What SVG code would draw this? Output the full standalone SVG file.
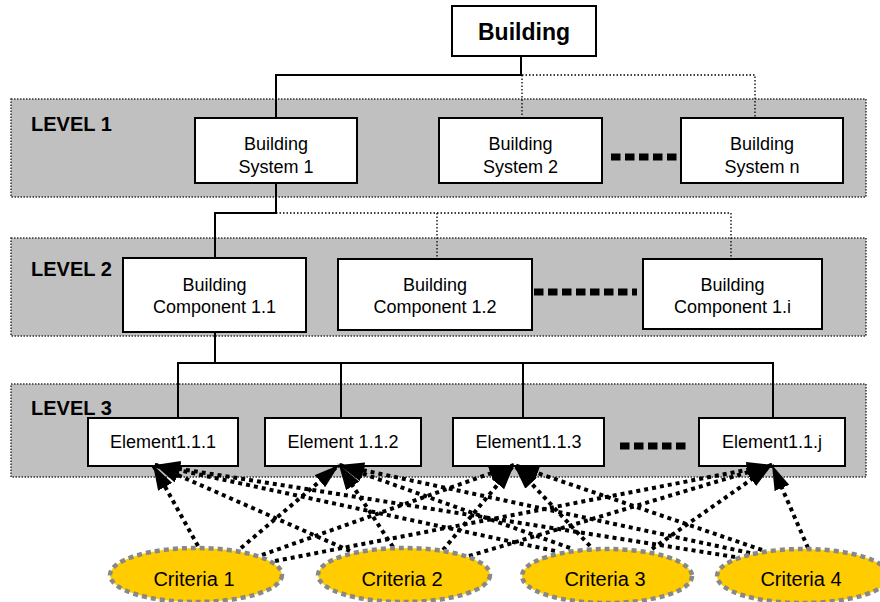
<svg xmlns="http://www.w3.org/2000/svg" width="880" height="602" viewBox="0 0 880 602">
<defs>
<style>
.panel{fill:#c0c0c0;stroke:#333;stroke-width:1.5;stroke-dasharray:1.5 1.5}
.box{fill:#fff;stroke:#000;stroke-width:2}
.t{font-family:"Liberation Sans",Arial,sans-serif;font-size:18px;text-anchor:middle;fill:#000}
.lv{font-family:"Liberation Sans",Arial,sans-serif;font-size:20px;font-weight:bold;fill:#000}
.solid{fill:none;stroke:#000;stroke-width:2}
.dot{fill:none;stroke:#000;stroke-width:1.3;stroke-dasharray:1.5 2}
.dash{fill:none;stroke:#000;stroke-width:7;stroke-dasharray:9.5 4.5}
.arr{fill:none;stroke:#000;stroke-width:4;stroke-dasharray:4 4;marker-end:url(#ah)}
.crit{fill:#ffcc00;stroke:#888;stroke-width:4.5;stroke-dasharray:5 4}
.ct{font-family:"Liberation Sans",Arial,sans-serif;font-size:20px;text-anchor:middle;fill:#000}
</style>
<marker id="ah" markerUnits="userSpaceOnUse" markerWidth="25" markerHeight="16" refX="25" refY="8" orient="auto">
<path d="M0,0 L25,8 L0,16 z" fill="#000"/>
</marker>
</defs>
<rect width="880" height="602" fill="#fff"/>

<g id="panels">
<rect class="panel" x="11" y="99" width="855" height="98"/>
<rect class="panel" x="11" y="238" width="855" height="98"/>
<rect class="panel" x="11" y="384" width="855" height="93"/>
<text class="lv" x="31" y="131">LEVEL 1</text>
<text class="lv" x="31" y="276">LEVEL 2</text>
<text class="lv" x="31" y="415">LEVEL 3</text>
</g>

<g id="connectors">
<polyline class="solid" points="521,56 521,75 276,75 276,118"/>
<polyline class="dot" points="522,75 755,75 755,118"/>
<line class="dot" x1="522" y1="75" x2="522" y2="118"/>
<polyline class="solid" points="276,183 276,213 215,213 215,258"/>
<polyline class="dot" points="276,213 731,213 731,259"/>
<line class="dot" x1="437" y1="213" x2="437" y2="259"/>
<polyline class="solid" points="215,332 215,363"/>
<polyline class="solid" points="178,418 178,363 773,363 773,418"/>
<line class="solid" x1="341" y1="363" x2="341" y2="418"/>
<line class="solid" x1="523" y1="363" x2="523" y2="418"/>
<line class="dash" x1="611" y1="157" x2="677" y2="157"/>
<line class="dash" x1="534" y1="292" x2="637" y2="292"/>
<line class="dash" x1="620" y1="446" x2="686" y2="446"/>
</g>

<g id="building">
<rect class="box" x="452" y="6" width="144" height="50"/>
<text class="t" x="524" y="40" style="font-size:23px;font-weight:bold">Building</text>
</g>
<g id="system1">
<rect class="box" x="195" y="118" width="162" height="65"/>
<text class="t" x="276" y="150">Building</text>
<text class="t" x="276" y="173">System 1</text>
</g>
<g id="system2">
<rect class="box" x="439" y="118" width="163" height="65"/>
<text class="t" x="520.5" y="150">Building</text>
<text class="t" x="520.5" y="173">System 2</text>
</g>
<g id="systemn">
<rect class="box" x="681" y="118" width="162" height="65"/>
<text class="t" x="762" y="150">Building</text>
<text class="t" x="762" y="173">System n</text>
</g>
<g id="comp11">
<rect class="box" x="123" y="258" width="183" height="74"/>
<text class="t" x="214.5" y="291">Building</text>
<text class="t" x="214.5" y="313">Component 1.1</text>
</g>
<g id="comp12">
<rect class="box" x="338" y="259" width="194" height="71"/>
<text class="t" x="435" y="291">Building</text>
<text class="t" x="435" y="313">Component 1.2</text>
</g>
<g id="comp1i">
<rect class="box" x="643" y="259" width="179" height="70"/>
<text class="t" x="732.5" y="291">Building</text>
<text class="t" x="732.5" y="313">Component 1.i</text>
</g>
<g id="el111">
<rect class="box" x="88" y="418" width="150" height="48"/>
<text class="t" x="163" y="448">Element1.1.1</text>
</g>
<g id="el112">
<rect class="box" x="265" y="418" width="156" height="48"/>
<text class="t" x="343" y="448">Element 1.1.2</text>
</g>
<g id="el113">
<rect class="box" x="453" y="418" width="151" height="48"/>
<text class="t" x="528.5" y="448">Element1.1.3</text>
</g>
<g id="el11j">
<rect class="box" x="699" y="418" width="146" height="48"/>
<text class="t" x="772" y="448">Element1.1.j</text>
</g>

<g id="criteria-arrows">
<line class="arr" x1="198" y1="546" x2="153" y2="465"/>
<line class="arr" x1="241" y1="548" x2="339" y2="465"/>
<line class="arr" x1="262" y1="555" x2="514" y2="465"/>
<line class="arr" x1="275" y1="561" x2="772" y2="465"/>
<line class="arr" x1="350" y1="551" x2="155" y2="465"/>
<line class="arr" x1="393" y1="547" x2="339" y2="465"/>
<line class="arr" x1="443" y1="550" x2="514" y2="465"/>
<line class="arr" x1="469" y1="556" x2="772" y2="465"/>
<line class="arr" x1="555" y1="551" x2="155" y2="465"/>
<line class="arr" x1="570" y1="548" x2="339" y2="465"/>
<line class="arr" x1="590" y1="546" x2="514" y2="465"/>
<line class="arr" x1="652" y1="549" x2="772" y2="465"/>
<line class="arr" x1="735" y1="557" x2="155" y2="465"/>
<line class="arr" x1="750" y1="553" x2="339" y2="465"/>
<line class="arr" x1="762" y1="550" x2="514" y2="465"/>
<line class="arr" x1="808" y1="548" x2="772" y2="465"/>
</g>

<g id="criteria1">
<ellipse class="crit" cx="196" cy="575" rx="86" ry="27"/>
<text class="ct" x="194" y="586">Criteria 1</text>
</g>
<g id="criteria2">
<ellipse class="crit" cx="404" cy="575" rx="86" ry="27"/>
<text class="ct" x="402" y="586">Criteria 2</text>
</g>
<g id="criteria3">
<ellipse class="crit" cx="607" cy="576" rx="85" ry="27"/>
<text class="ct" x="605" y="586">Criteria 3</text>
</g>
<g id="criteria4">
<ellipse class="crit" cx="803" cy="576" rx="86" ry="27"/>
<text class="ct" x="801" y="586">Criteria 4</text>
</g>
</svg>
